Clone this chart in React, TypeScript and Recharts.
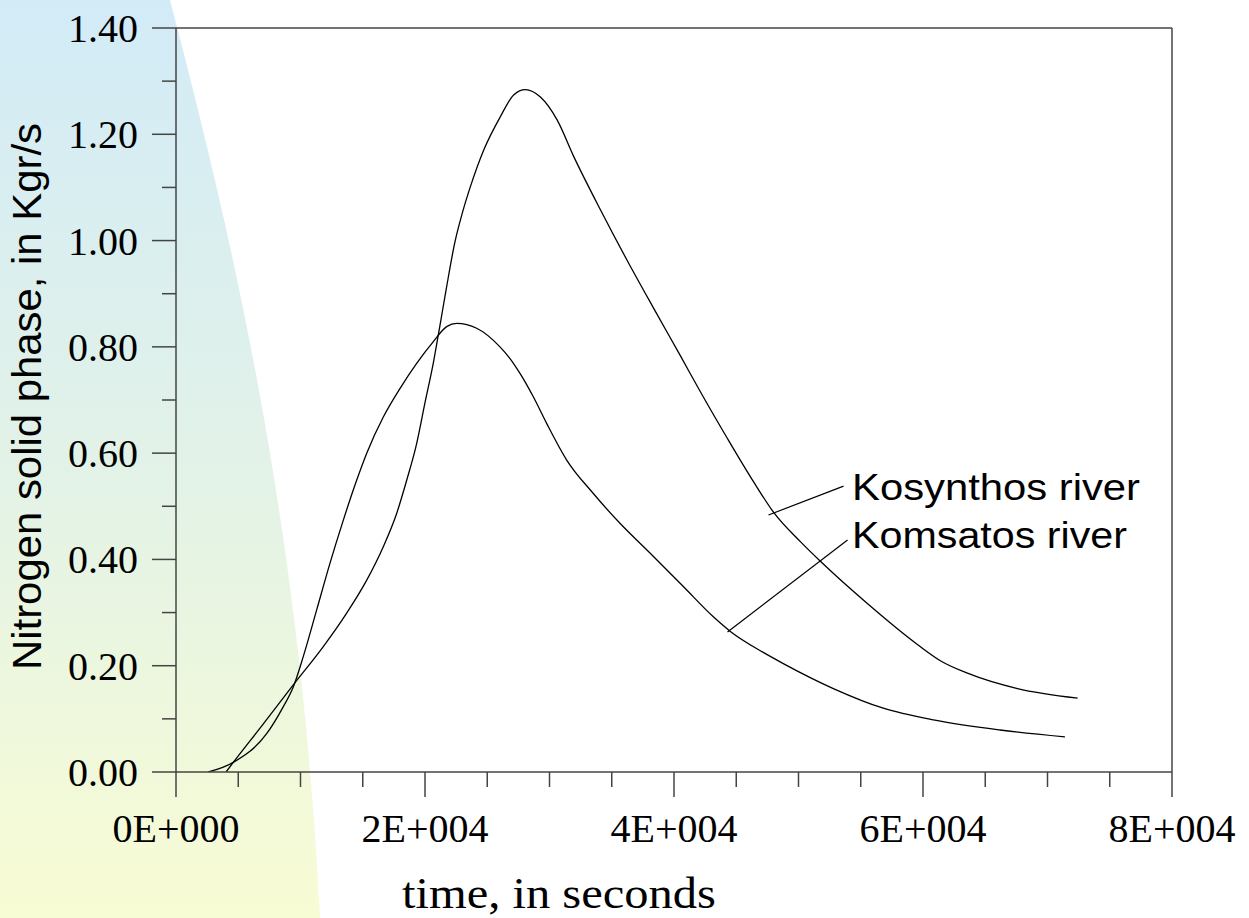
import React from 'react';
import { LineChart, Line, XAxis, YAxis, ReferenceLine, ReferenceDot } from 'recharts';

// ---- data (time in seconds, nitrogen solid phase in Kgr/s) ----
const kosynthosTime = [4020, 4600, 7000, 9420, 11830, 13710, 15320, 16650, 17730, 18530, 19300, 20000, 20670, 21200, 21700, 22410, 23000, 23640, 24710, 26050, 27120, 28060, 29270, 30610, 31950, 34090, 36230, 38380, 40520, 42130, 44280, 46420, 48020, 50170, 51780, 55530, 59550, 61500, 63570, 67590, 72420];
const kosynthosValue = [0.0, 0.018, 0.090, 0.164, 0.236, 0.299, 0.361, 0.424, 0.487, 0.549, 0.615, 0.695, 0.770, 0.840, 0.908, 0.998, 1.052, 1.101, 1.170, 1.233, 1.274, 1.284, 1.270, 1.227, 1.158, 1.058, 0.963, 0.872, 0.783, 0.715, 0.628, 0.545, 0.488, 0.433, 0.396, 0.317, 0.240, 0.208, 0.186, 0.157, 0.139];

const komsatosTime = [2600, 4600, 7280, 8620, 9420, 10220, 11300, 12370, 13440, 14510, 15320, 16650, 18000, 19330, 20670, 21740, 22550, 24150, 26020, 26830, 27630, 28700, 29770, 31380, 33520, 35660, 38070, 40750, 43160, 44500, 47170, 48780, 52800, 56810, 60830, 66180, 71400];
const komsatosValue = [0.0, 0.018, 0.072, 0.123, 0.160, 0.217, 0.305, 0.393, 0.474, 0.549, 0.600, 0.668, 0.722, 0.769, 0.810, 0.838, 0.844, 0.835, 0.800, 0.778, 0.750, 0.706, 0.656, 0.587, 0.524, 0.468, 0.412, 0.349, 0.292, 0.265, 0.225, 0.204, 0.157, 0.120, 0.098, 0.079, 0.066];

const seriesNames = ['Kosynthos river', 'Komsatos river'];

// ---- ticks ----
const xTicks = [0, 5000, 10000, 15000, 20000, 25000, 30000, 35000, 40000, 45000, 50000, 55000, 60000, 65000, 70000, 75000, 80000];
const xMajorTicks = [0, 20000, 40000, 60000, 80000];
const xTickLabels = ['0E+000', '2E+004', '4E+004', '6E+004', '8E+004'];
const yTicks = [0, 0.1, 0.2, 0.3, 0.4, 0.5, 0.6, 0.7, 0.8, 0.9, 1.0, 1.1, 1.2, 1.3, 1.4];
const yMajorTicks = [0, 0.2, 0.4, 0.6, 0.8, 1.0, 1.2, 1.4];
const yTickLabels = ['0.00', '0.20', '0.40', '0.60', '0.80', '1.00', '1.20', '1.40'];

// ---- annotation anchors (data coordinates) ----
const kosLeader = [{ x: 47590, y: 0.4836 }, { x: 53620, y: 0.538 }];
const komLeader = [{ x: 44300, y: 0.2635 }, { x: 53940, y: 0.4366 }];
const kosLabelAt = { x: 54300, y: 0.512 };
const komLabelAt = { x: 54300, y: 0.4215 };

const kosynthosData = kosynthosTime.map((t, i) => ({ t, v: kosynthosValue[i] }));
const komsatosData = komsatosTime.map((t, i) => ({ t, v: komsatosValue[i] }));

const AXIS = '#444';
const SERIF = '"Liberation Serif", "Times New Roman", serif';
const SANS = '"Liberation Sans", Arial, sans-serif';

const findIdx = (arr: number[], v: number) => arr.findIndex((a) => Math.abs(a - v) < 1e-6);

const YTick = (props: any) => {
  const { x, y, payload } = props;
  const idx = findIdx(yMajorTicks, payload.value);
  const major = idx >= 0;
  return (
    <g>
      <line x1={x} x2={x - (major ? 24 : 14)} y1={y} y2={y} stroke={AXIS} strokeWidth={1.5} />
      {major && (
        <text x={x - 38} y={y} dy="0.35em" textAnchor="end" fontFamily={SERIF} fontSize={40} fill="#000">
          {yTickLabels[idx]}
        </text>
      )}
    </g>
  );
};

const XTick = (props: any) => {
  const { x, y, payload } = props;
  const idx = findIdx(xMajorTicks, payload.value);
  const major = idx >= 0;
  return (
    <g>
      <line x1={x} x2={x} y1={y} y2={y + (major ? 25 : 15)} stroke={AXIS} strokeWidth={1.5} />
      {major && (
        <text x={x} y={y + 70} textAnchor="middle" fontFamily={SERIF} fontSize={40} fill="#000">
          {xTickLabels[idx]}
        </text>
      )}
    </g>
  );
};

const labelShape = (text: string, len: number) => (p: any) => (
  <text x={p.cx} y={p.cy} fontFamily={SANS} fontSize={36} fill="#000" textLength={len} lengthAdjust="spacingAndGlyphs">
    {text}
  </text>
);

export default function App() {
  return (
    <div style={{ position: 'absolute', left: 0, top: 0, width: 1249, height: 918, background: '#fff' }}>
      <svg width={1249} height={918} style={{ position: 'absolute', left: 0, top: 0 }}>
        <defs>
          <linearGradient id="bgGrad" x1="0" y1="0" x2="0" y2="1">
            <stop offset="0%" stopColor="#d2ebf7" />
            <stop offset="50%" stopColor="#e2f2e8" />
            <stop offset="100%" stopColor="#f8fcd4" />
          </linearGradient>
        </defs>
        <path d="M0,0 L170,0 C230,230 300,520 320,918 L0,918 Z" fill="url(#bgGrad)" />
      </svg>
      <div style={{ position: 'absolute', left: 0, top: 0 }}>
        <LineChart width={1249} height={918} margin={{ top: 28, right: 77, bottom: 0, left: 0 }}>
          <XAxis
            type="number"
            dataKey="t"
            domain={[0, 80000]}
            ticks={xTicks}
            interval={0}
            height={146}
            tickSize={0}
            tickMargin={0}
            tick={<XTick />}
            axisLine={{ stroke: AXIS, strokeWidth: 1.5 }}
            tickLine={false}
            allowDataOverflow
          />
          <YAxis
            type="number"
            dataKey="v"
            domain={[0, 1.4]}
            ticks={yTicks}
            interval={0}
            width={176}
            tickSize={0}
            tickMargin={0}
            tick={<YTick />}
            axisLine={{ stroke: AXIS, strokeWidth: 1.5 }}
            tickLine={false}
            allowDataOverflow
          />
          <ReferenceLine y={1.4} stroke={AXIS} strokeWidth={1.5} />
          <ReferenceLine x={80000} stroke={AXIS} strokeWidth={1.5} />
          <Line
            data={kosynthosData}
            dataKey="v"
            name={seriesNames[0]}
            type="monotone"
            stroke="#000"
            strokeWidth={1.3}
            dot={false}
            activeDot={false}
            isAnimationActive={false}
          />
          <Line
            data={komsatosData}
            dataKey="v"
            name={seriesNames[1]}
            type="monotone"
            stroke="#000"
            strokeWidth={1.3}
            dot={false}
            activeDot={false}
            isAnimationActive={false}
          />
          <ReferenceLine segment={kosLeader} stroke="#000" strokeWidth={1.2} />
          <ReferenceLine segment={komLeader} stroke="#000" strokeWidth={1.2} />
          <ReferenceDot x={kosLabelAt.x} y={kosLabelAt.y} r={0} shape={labelShape(seriesNames[0], 288)} />
          <ReferenceDot x={komLabelAt.x} y={komLabelAt.y} r={0} shape={labelShape(seriesNames[1], 275)} />
        </LineChart>
      </div>
      <svg width={1249} height={918} style={{ position: 'absolute', left: 0, top: 0, pointerEvents: 'none' }}>
        <text
          x={41}
          y={396.5}
          transform="rotate(-90 41 396.5)"
          textAnchor="middle"
          fontFamily={SANS}
          fontSize={41}
          fill="#000"
          textLength={547}
          lengthAdjust="spacingAndGlyphs"
        >
          Nitrogen solid phase, in Kgr/s
        </text>
        <text x={402} y={908} fontFamily={SERIF} fontSize={45} fill="#000" textLength={314} lengthAdjust="spacingAndGlyphs">
          time, in seconds
        </text>
      </svg>
    </div>
  );
}
